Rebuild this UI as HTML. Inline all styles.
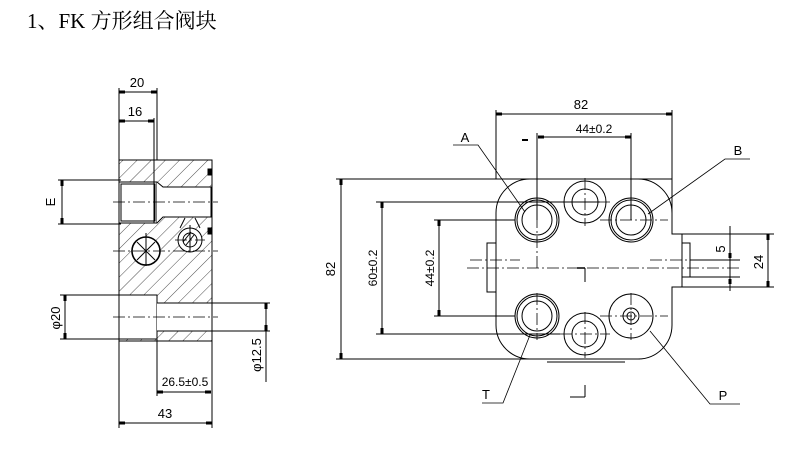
<!DOCTYPE html>
<html><head><meta charset="utf-8"><style>
html,body{margin:0;padding:0;background:#fff;width:790px;height:453px;overflow:hidden}
svg{display:block}
text{font-family:"Liberation Sans","DejaVu Sans",sans-serif;fill:#000}
</style></head><body>
<svg width="790" height="453" viewBox="0 0 790 453" xmlns="http://www.w3.org/2000/svg">
<defs>
<pattern id="h" patternUnits="userSpaceOnUse" width="10" height="10" patternTransform="rotate(45)">
<line x1="0" y1="0" x2="0" y2="10" stroke="#000" stroke-width="0.7"/>
</pattern>
<marker id="a" viewBox="0 0 6 4" refX="6" refY="2" markerWidth="6" markerHeight="4" orient="auto-start-reverse"><rect x="0" y="0.5" width="6" height="3" fill="#000"/></marker>
</defs>
<text x="27" y="28" font-size="21" style="font-family:'Liberation Serif','Noto Serif CJK SC',serif">1、FK 方形组合阀块</text>

<g stroke="#000" fill="none" stroke-width="1">
<!-- LEFT VIEW -->
<rect x="119" y="160" width="93" height="181" fill="url(#h)"/>
<rect x="119" y="182" width="38" height="41" fill="#fff"/>
<rect x="121" y="184" width="34" height="37" fill="#fff"/>
<path d="M157 182 L163 187 L211 187 L211 217 L163 217 L157 223" fill="#fff"/>
<rect x="119" y="295" width="38" height="44" fill="#fff"/>
<rect x="157" y="303" width="55" height="28" fill="#fff" stroke="none"/>
<line x1="157" y1="303" x2="212" y2="303"/><line x1="157" y1="331" x2="212" y2="331"/>
<rect x="119" y="160" width="93" height="181"/>
<circle cx="146" cy="251" r="14" fill="#fff" stroke-width="1.6"/>
<line x1="137" y1="242" x2="155" y2="260"/><line x1="155" y1="242" x2="137" y2="260"/>
<line x1="146" y1="233" x2="146" y2="266"/>
<circle cx="190" cy="240" r="12" fill="#fff"/>
<circle cx="190" cy="240" r="7"/>
<line x1="186" y1="245" x2="194" y2="235"/><line x1="183" y1="242" x2="191" y2="232"/>
<line x1="190" y1="225" x2="190" y2="252"/>
<line x1="185" y1="218" x2="180" y2="228"/><line x1="195" y1="218" x2="200" y2="228"/>
<rect x="208" y="169" width="4" height="6" fill="#000"/><rect x="208" y="228" width="4" height="6" fill="#000"/>
<g stroke-dasharray="12,3,2,3" stroke-width="0.8">
<line x1="113" y1="202" x2="218" y2="202"/>
<line x1="113" y1="251" x2="218" y2="251"/>
<line x1="113" y1="317" x2="218" y2="317"/>
<line x1="175" y1="240" x2="205" y2="240"/>
</g>
<!-- left dims -->
<line x1="119" y1="88" x2="119" y2="428"/>
<line x1="157" y1="88" x2="157" y2="160"/>
<line x1="154" y1="118" x2="154" y2="223"/>
<line x1="212" y1="341" x2="212" y2="428"/>
<line x1="157" y1="339" x2="157" y2="396"/>
<line x1="119" y1="92" x2="157" y2="92" marker-start="url(#a)" marker-end="url(#a)"/>
<line x1="119" y1="121" x2="154" y2="121" marker-start="url(#a)" marker-end="url(#a)"/>
<line x1="157" y1="392" x2="211" y2="392" marker-start="url(#a)" marker-end="url(#a)"/>
<line x1="119" y1="423" x2="212" y2="423" marker-start="url(#a)" marker-end="url(#a)"/>
<line x1="58" y1="180" x2="121" y2="180"/><line x1="58" y1="224" x2="121" y2="224"/>
<line x1="62" y1="180" x2="62" y2="224" marker-start="url(#a)" marker-end="url(#a)"/>
<line x1="60" y1="295" x2="119" y2="295"/><line x1="60" y1="339" x2="119" y2="339"/>
<line x1="65" y1="295" x2="65" y2="339" marker-start="url(#a)" marker-end="url(#a)"/>
<line x1="212" y1="303" x2="270" y2="303"/><line x1="212" y1="331" x2="270" y2="331"/>
<line x1="266" y1="303" x2="266" y2="331" marker-start="url(#a)" marker-end="url(#a)"/>
<line x1="266" y1="331" x2="266" y2="382"/>

<!-- RIGHT VIEW body -->
<path d="M530 179 L638 179 A34 34 0 0 1 672 213 L672 234 L682 234 L682 287 L672 287 L672 325 A34 34 0 0 1 638 359 L530 359 A34 34 0 0 1 496 325 L496 213 A34 34 0 0 1 530 179 Z"/>
<rect x="682" y="243" width="8" height="34"/>
<rect x="487" y="243" width="9" height="49"/>
<circle cx="537" cy="220" r="22"/><circle cx="537" cy="220" r="20"/><circle cx="537" cy="220" r="15"/>
<circle cx="631" cy="220" r="22"/><circle cx="631" cy="220" r="20"/><circle cx="631" cy="220" r="15"/>
<circle cx="585" cy="202" r="21"/><circle cx="585" cy="202" r="13"/>
<circle cx="537" cy="316" r="22"/><circle cx="537" cy="316" r="20"/><circle cx="537" cy="316" r="15"/>
<circle cx="585" cy="334" r="21"/><circle cx="585" cy="334" r="13"/>
<circle cx="631" cy="316" r="22"/><circle cx="631" cy="316" r="8"/><circle cx="631" cy="316" r="4"/>
<g stroke-dasharray="12,3,2,3" stroke-width="0.8">
<line x1="467" y1="268" x2="740" y2="268"/>
<line x1="470" y1="260" x2="520" y2="260"/>
<line x1="650" y1="260" x2="740" y2="260"/>
<line x1="585" y1="178" x2="585" y2="226"/><line x1="560" y1="202" x2="610" y2="202"/>
<line x1="585" y1="312" x2="585" y2="358"/><line x1="560" y1="334" x2="610" y2="334"/>
<line x1="631" y1="293" x2="631" y2="340"/>
<line x1="537" y1="293" x2="537" y2="340"/>
<line x1="600" y1="220" x2="668" y2="220"/>
<line x1="600" y1="316" x2="668" y2="316"/>
<line x1="537" y1="196" x2="537" y2="268"/>
</g>
<line x1="577" y1="268" x2="585" y2="268" stroke-width="1.5"/><line x1="585" y1="268" x2="585" y2="282"/>
<line x1="496" y1="110" x2="496" y2="179"/>
<line x1="672" y1="110" x2="672" y2="234"/>
<line x1="496" y1="114" x2="672" y2="114" marker-start="url(#a)" marker-end="url(#a)"/>
<line x1="537" y1="133" x2="537" y2="220"/>
<line x1="631" y1="133" x2="631" y2="220"/>
<line x1="538" y1="137" x2="631" y2="137" marker-start="url(#a)" marker-end="url(#a)"/>
<line x1="522" y1="140" x2="528" y2="140" stroke-width="2"/>
<line x1="336" y1="179" x2="672" y2="179"/>
<line x1="336" y1="359" x2="640" y2="359"/>
<line x1="341" y1="179" x2="341" y2="359" marker-start="url(#a)" marker-end="url(#a)"/>
<line x1="376" y1="202" x2="600" y2="202"/>
<line x1="376" y1="334" x2="560" y2="334"/>
<line x1="382" y1="202" x2="382" y2="334" marker-start="url(#a)" marker-end="url(#a)"/>
<line x1="434" y1="220" x2="515" y2="220"/>
<line x1="434" y1="316" x2="515" y2="316"/>
<line x1="439" y1="220" x2="439" y2="316" marker-start="url(#a)" marker-end="url(#a)"/>
<line x1="672" y1="234" x2="774" y2="234"/>
<line x1="682" y1="287" x2="774" y2="287"/>
<line x1="768" y1="234" x2="768" y2="287" marker-start="url(#a)" marker-end="url(#a)"/>
<line x1="690" y1="260" x2="740" y2="260"/>
<line x1="690" y1="277" x2="740" y2="277"/>
<line x1="730" y1="226" x2="730" y2="291"/>
<rect x="728.5" y="253" width="3" height="5" fill="#000" stroke="none"/>
<rect x="728.5" y="279" width="3" height="5" fill="#000" stroke="none"/>
<line x1="547" y1="362" x2="625" y2="362"/>
<line x1="585" y1="385" x2="585" y2="397"/><line x1="570" y1="397" x2="585" y2="397"/>
<polyline points="453,145 478,145 525,212" stroke-width="0.8"/>
<polyline points="750,159 725,159 648,214" stroke-width="0.8"/>
<polyline points="482,403 503,403 530,335" stroke-width="0.8"/>
<polyline points="740,404 710,404 650,331" stroke-width="0.8"/>
</g>

<g font-size="13">
<text x="137" y="87" text-anchor="middle">20</text>
<text x="135" y="116" text-anchor="middle">16</text>
<text x="185" y="386" text-anchor="middle" font-size="12">26.5±0.5</text>
<text x="165" y="418" text-anchor="middle">43</text>
<text transform="translate(55,202) rotate(-90)" text-anchor="middle">E</text>
<text transform="translate(60,318) rotate(-90)" text-anchor="middle">φ20</text>
<text transform="translate(261,355) rotate(-90)" text-anchor="middle">φ12.5</text>
<text x="581" y="109" text-anchor="middle">82</text>
<text x="594" y="133" text-anchor="middle" font-size="12">44±0.2</text>
<text transform="translate(335,269) rotate(-90)" text-anchor="middle">82</text>
<text transform="translate(377,268) rotate(-90)" text-anchor="middle" font-size="12">60±0.2</text>
<text transform="translate(434,268) rotate(-90)" text-anchor="middle" font-size="12">44±0.2</text>
<text transform="translate(725,249) rotate(-90)" text-anchor="middle">5</text>
<text transform="translate(763,262) rotate(-90)" text-anchor="middle">24</text>
<text x="465" y="142" text-anchor="middle">A</text>
<text x="738" y="155" text-anchor="middle">B</text>
<text x="486" y="399" text-anchor="middle">T</text>
<text x="723" y="400" text-anchor="middle">P</text>
</g>
</svg>
</body></html>
